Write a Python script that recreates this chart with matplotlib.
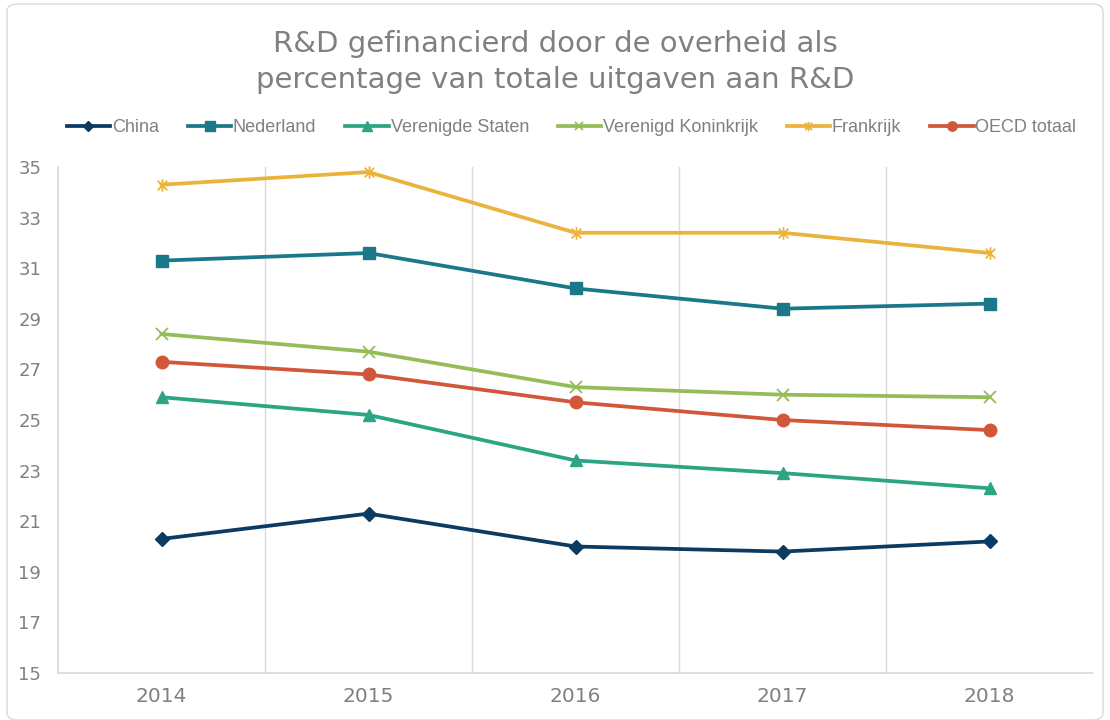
import numpy as np
import matplotlib
matplotlib.use("Agg")
import matplotlib.pyplot as plt
from matplotlib.path import Path
from matplotlib.patches import FancyBboxPatch

# data
years = ["2014", "2015", "2016", "2017", "2018"]
china = [20.3, 21.3, 20.0, 19.8, 20.2]
nederland = [31.3, 31.6, 30.2, 29.4, 29.6]
verenigde_staten = [25.9, 25.2, 23.4, 22.9, 22.3]
verenigd_koninkrijk = [28.4, 27.7, 26.3, 26.0, 25.9]
frankrijk = [34.3, 34.8, 32.4, 32.4, 31.6]
oecd = [27.3, 26.8, 25.7, 25.0, 24.6]

names = ["China", "Nederland", "Verenigde Staten", "Verenigd Koninkrijk",
         "Frankrijk", "OECD totaal"]
series = [china, nederland, verenigde_staten, verenigd_koninkrijk, frankrijk, oecd]
colors = ["#0b3a63", "#1b7889", "#2ba583", "#94bd59", "#eab43c", "#d1573a"]

# Excel style asterisk marker: x plus a vertical bar
star = Path([(-1, -1), (1, 1), (-1, 1), (1, -1), (0, -1.3), (0, 1.3)],
            [Path.MOVETO, Path.LINETO, Path.MOVETO, Path.LINETO, Path.MOVETO, Path.LINETO])
markers = ["D", "s", "^", "x", star, "o"]
msizes = [7, 9, 9, 8, 9, 9]

grey = "#808080"
gridc = "#d9d9d9"

fig = plt.figure(figsize=(11.1, 7.2), dpi=100)
ax = fig.add_axes([58 / 1110, 1 - 673 / 720, (1093 - 58) / 1110, (673 - 150) / 720])

x = np.arange(len(years))
for vals, name, c, m, ms in zip(series, names, colors, markers, msizes):
    thin = (m == "x") or (m is star)
    ax.plot(x, vals, color=c, lw=2.7, marker=m, markersize=ms, label=name,
            markeredgecolor=c, markerfacecolor=c, markeredgewidth=1.3 if thin else 1)

ax.set_xlim(-0.5, len(years) - 0.5)
ax.set_ylim(15, 35 + 17 / 25.3)
ax.set_yticks(np.arange(15, 36, 2))
ax.set_xticks(x)
ax.set_xticklabels(years)
ax.tick_params(axis="x", length=0, labelsize=14.5, labelcolor=grey, pad=10)
ax.tick_params(axis="y", length=0, labelsize=13, labelcolor=grey, pad=12)

# vertical gridlines between the categories
for b in np.arange(0.5, len(years) - 1, 1.0):
    ax.plot([b, b], [15, 35], color=gridc, lw=1, zorder=0)
ax.plot([-0.5, -0.5], [15, 35], color=gridc, lw=1.2, zorder=0, clip_on=False)
for s in ax.spines.values():
    s.set_visible(False)
ax.spines["bottom"].set_visible(True)
ax.spines["bottom"].set_color(gridc)
ax.spines["bottom"].set_linewidth(1.2)

fig.text(0.5, 1 - 44 / 720, "R&D gefinancierd door de overheid als",
         ha="center", va="center", fontsize=21, color=grey)
fig.text(0.5, 1 - 80 / 720, "percentage van totale uitgaven aan R&D",
         ha="center", va="center", fontsize=21, color=grey)

leg = fig.legend(loc="center", bbox_to_anchor=(0.515, 1 - 128 / 720), ncol=6,
                 frameon=False, handlelength=2.4, handletextpad=0.1, markerscale=0.75,
                 columnspacing=1.6, prop={"family": ["Liberation Sans Narrow", "Liberation Sans"], "size": 13})
for t in leg.get_texts():
    t.set_color(grey)

# outer chart border
fig.patches.append(FancyBboxPatch((7 / 1110, 0.0), 1 - 14 / 1110, 1 - 4 / 720,
                                  boxstyle="round,pad=0,rounding_size=0.01",
                                  transform=fig.transFigure, fill=False,
                                  edgecolor=gridc, lw=1))

fig.savefig("out.png", dpi=100)
